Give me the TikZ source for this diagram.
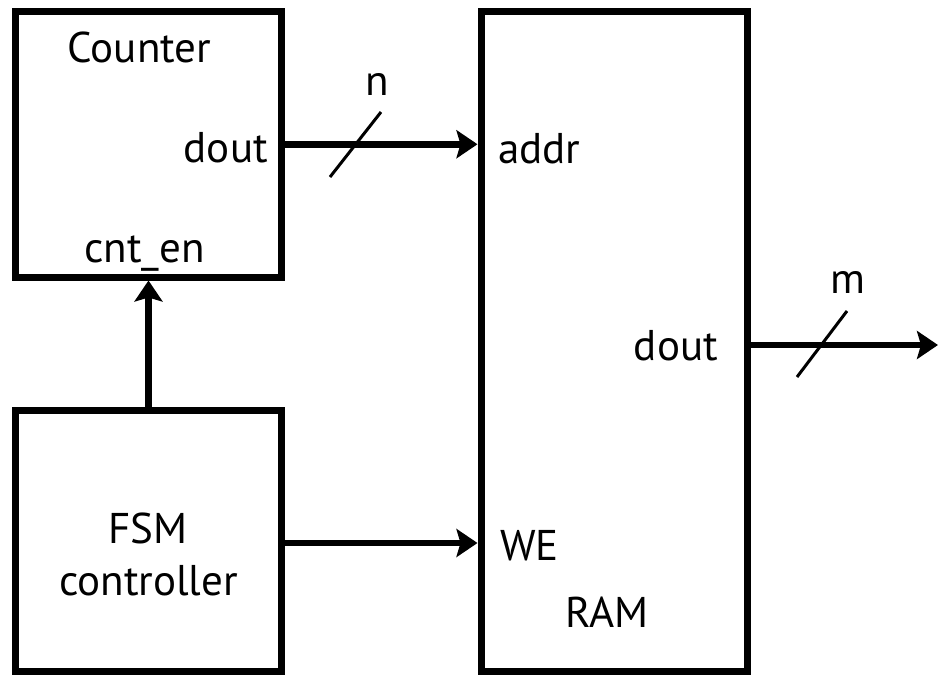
\documentclass[tikz,border=0pt]{standalone}
\usepackage{fontspec}
\setmainfont{PT Sans}
\usetikzlibrary{arrows.meta}
\begin{document}
\begin{tikzpicture}[x=1pt,y=-1pt,
  block/.style={draw, line width=7pt, rectangle, inner sep=0pt},
  wire/.style={line width=6.5pt, -{Stealth[length=21pt,width=28pt,inset=4pt]}},
  busmark/.style={line width=3pt},
  lbl/.style={inner sep=0pt, font=\fontsize{43}{43}\selectfont}]
\useasboundingbox (0,0) rectangle (938,675);
\node[block, minimum width=266pt, minimum height=265.5pt] (counter) at (148.5,144.25) {};
\node[block, minimum width=266pt, minimum height=261pt] (fsm) at (148.5,541) {};
\node[block, minimum width=266pt, minimum height=660pt] (ram) at (614,341.5) {};
% labels
\node[lbl, anchor=base] (tcounter) at (139.5,62) {Counter};
\node[lbl, anchor=base east] (tcdout) at (268,162) {dout};
\node[lbl, anchor=base] (tcnten) at (144.5,262) {cnt\_en};
\node[lbl, anchor=base] (tfsm) at (148,543) {FSM};
\node[lbl, anchor=base] (tctrl) at (148.5,595) {controller};
\node[lbl, anchor=base west] (taddr) at (498,163) {addr};
\node[lbl, anchor=base east] (trdout) at (718,360) {dout};
\node[lbl, anchor=base west] (twe) at (500,560) {WE};
\node[lbl, anchor=base west] (tram) at (565,627) {RAM};
\node[lbl, anchor=base] (tn) at (377,95) {n};
\node[lbl, anchor=base] (tm) at (848,293) {m};
% connectors
\draw[wire] (counter.east) -- (counter.east -| ram.west);
\draw[wire] (fsm.north) -- (counter.south);
\coordinate (we) at (285,543);
\draw[wire] (fsm.east |- we) -- (we -| ram.west);
\coordinate (out) at (938,345);
\draw[wire] (ram.east |- out) -- (out);
% bus marks
\coordinate (n1) at (330,177);
\coordinate (n2) at (381,112);
\draw[busmark] (n1) -- (n2);
\coordinate (m1) at (797,377);
\coordinate (m2) at (847,311);
\draw[busmark] (m1) -- (m2);
\end{tikzpicture}
\end{document}
